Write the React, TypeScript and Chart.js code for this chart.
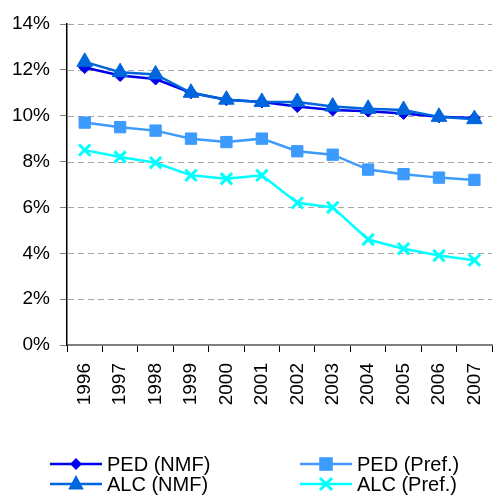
import React, { useEffect, useRef } from "react";
import { Chart, registerables } from "chart.js";

Chart.register(...registerables);

const years = ["1996","1997","1998","1999","2000","2001","2002","2003","2004","2005","2006","2007"];
const pedNmf = [12.1, 11.75, 11.6, 11.0, 10.7, 10.6, 10.4, 10.25, 10.2, 10.1, 9.95, 9.9];
const alcNmf = [12.35, 11.9, 11.8, 11.0, 10.7, 10.6, 10.6, 10.4, 10.3, 10.25, 9.95, 9.85];
const pedPref = [9.7, 9.5, 9.35, 9.0, 8.85, 9.0, 8.45, 8.3, 7.65, 7.45, 7.3, 7.2];
const alcPref = [8.5, 8.2, 7.95, 7.4, 7.25, 7.4, 6.2, 6.0, 4.6, 4.2, 3.9, 3.7];
const yTicks = [0, 2, 4, 6, 8, 10, 12, 14];

const FONT = "Arial, 'Liberation Sans', sans-serif";

const series = [
  { label: "PED (NMF)", data: pedNmf, color: "#0000EE", style: "rectRot", radius: 6, order: 3 },
  { label: "ALC (NMF)", data: alcNmf, color: "#0066DD", style: "triangle", radius: 9, order: 2 },
  { label: "PED (Pref.)", data: pedPref, color: "#3D9BFF", style: "rect", radius: 8, order: 1 },
  { label: "ALC (Pref.)", data: alcPref, color: "#00FFFF", style: "crossRot", radius: 8, order: 0 },
];

function drawMarker(ctx: CanvasRenderingContext2D, style: string, r: number, x: number, y: number, color: string) {
  ctx.fillStyle = color;
  ctx.strokeStyle = color;
  ctx.beginPath();
  if (style === "rectRot") {
    ctx.moveTo(x, y - r);
    ctx.lineTo(x + r, y);
    ctx.lineTo(x, y + r);
    ctx.lineTo(x - r, y);
    ctx.closePath();
    ctx.fill();
  } else if (style === "triangle") {
    ctx.moveTo(x, y - r);
    ctx.lineTo(x + r * 0.866, y + r * 0.5 + 1);
    ctx.lineTo(x - r * 0.866, y + r * 0.5 + 1);
    ctx.closePath();
    ctx.fill();
  } else if (style === "rect") {
    const s = r * 0.85;
    ctx.rect(x - s, y - s, 2 * s, 2 * s);
    ctx.fill();
  } else {
    ctx.lineWidth = 3;
    const s = r * 0.75;
    ctx.moveTo(x - s, y - s);
    ctx.lineTo(x + s, y + s);
    ctx.moveTo(x + s, y - s);
    ctx.lineTo(x - s, y + s);
    ctx.stroke();
  }
}

const gridPlugin = {
  id: "dashedGrid",
  beforeDatasetsDraw(chart: any) {
    const ctx = chart.ctx;
    const y = chart.scales.y;
    const { left, right } = chart.chartArea;
    ctx.save();
    ctx.strokeStyle = "#A6A6A6";
    ctx.lineWidth = 1;
    ctx.setLineDash([6, 4]);
    yTicks.forEach((v) => {
      if (v === 0) return;
      const py = Math.round(y.getPixelForValue(v)) + 0.5;
      ctx.beginPath();
      ctx.moveTo(left + 1, py);
      ctx.lineTo(right, py);
      ctx.stroke();
    });
    ctx.restore();
  },
};

const legendPlugin = {
  id: "customLegend",
  afterDraw(chart: any) {
    const ctx = chart.ctx;
    const positions = [
      { x: 50, y: 464 },
      { x: 50, y: 484 },
      { x: 300, y: 464 },
      { x: 300, y: 484 },
    ];
    series.forEach((s, i) => {
      const p = positions[i];
      ctx.save();
      ctx.strokeStyle = s.color;
      ctx.lineWidth = 2.5;
      ctx.beginPath();
      ctx.moveTo(p.x, p.y);
      ctx.lineTo(p.x + 52, p.y);
      ctx.stroke();
      drawMarker(ctx, s.style, s.radius, p.x + 26, p.y, s.color);
      ctx.fillStyle = "#000";
      ctx.font = `20px ${FONT}`;
      ctx.textBaseline = "middle";
      ctx.textAlign = "left";
      ctx.fillText(s.label, p.x + 57, p.y + 1);
      ctx.restore();
    });
  },
};

export default function App() {
  const ref = useRef<HTMLCanvasElement>(null);
  useEffect(() => {
    document.body.style.margin = "0";
    document.body.style.overflow = "hidden";
    const chart = new Chart(ref.current!, {
      type: "line",
      data: {
        labels: years,
        datasets: series.map((s) => ({
          label: s.label,
          data: s.data,
          borderColor: s.color,
          backgroundColor: s.color,
          borderWidth: 2.5,
          pointStyle: s.style as any,
          pointRadius: s.radius,
          pointBorderWidth: s.style === "crossRot" ? 3 : 1,
          tension: 0,
          order: s.order,
        })),
      },
      options: {
        responsive: false,
        animation: false,
        maintainAspectRatio: false,
        layout: { autoPadding: false, padding: { top: 24, right: 0, left: 0, bottom: 0 } },
        plugins: { legend: { display: false }, tooltip: { enabled: false } },
        scales: {
          x: {
            offset: true,
            grid: {
              offset: true,
              drawOnChartArea: false,
              tickLength: 7,
              tickColor: "#000",
              tickWidth: 1,
            },
            border: { color: "#808080", width: 2 },
            ticks: {
              color: "#000",
              font: { size: 19, family: FONT, lineHeight: 0.4 },
              maxRotation: 90,
              minRotation: 90,
              padding: 11,
            },
            afterFit(scale: any) {
              scale.height = 150;
            },
          },
          y: {
            min: 0,
            max: 14,
            afterBuildTicks(scale: any) {
              scale.ticks = yTicks.map((v) => ({ value: v }));
            },
            grid: {
              drawOnChartArea: false,
              tickColor: "#808080",
              tickLength: 7,
              lineWidth: 1,
            },
            border: { color: "#000", width: 1.5 },
            ticks: {
              color: "#000",
              font: { size: 19, family: FONT },
              padding: 10,
              callback: (v: any) => `${v}%`,
            },
            afterFit(scale: any) {
              scale.width = 67;
            },
          },
        },
      },
      plugins: [gridPlugin, legendPlugin],
    });
    return () => chart.destroy();
  }, []);
  return (
    <div style={{ width: 493, height: 495, overflow: "hidden" }}>
      <canvas ref={ref} width={493} height={495} style={{ display: "block" }} />
    </div>
  );
}
